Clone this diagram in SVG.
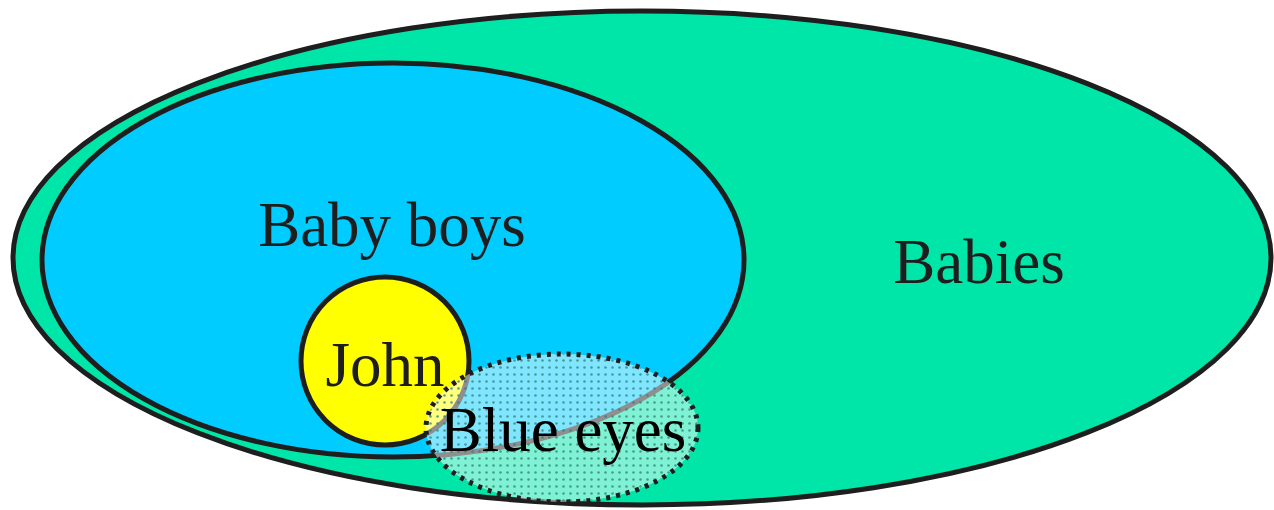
<svg xmlns="http://www.w3.org/2000/svg" width="1274" height="510" viewBox="0 0 1274 510">
<style>
.set{stroke:#1e1e1e;stroke-width:5}
.lbl{font-family:"Liberation Serif","Times New Roman",serif;font-size:63px;fill:#1e1e1e}
</style>
<defs>
<pattern id="dots" width="7" height="7" patternUnits="userSpaceOnUse">
<rect width="7" height="7" fill="#ffffff" fill-opacity="0.5"/>
<circle cx="3.5" cy="3.5" r="1.3" fill="#2f7f78" fill-opacity="0.75"/>
</pattern>
</defs>
<rect width="1274" height="510" fill="#ffffff"/>
<g id="babies">
<ellipse class="set" cx="642" cy="258" rx="629" ry="247" fill="#00e5a8"/>
<text class="lbl" x="979" y="283" text-anchor="middle">Babies</text>
</g>
<g id="baby-boys">
<ellipse class="set" cx="393" cy="260" rx="351" ry="197" fill="#00ccff"/>
<text class="lbl" x="392" y="246" text-anchor="middle">Baby boys</text>
</g>
<g id="john">
<circle class="set" cx="385" cy="361" r="84" fill="#ffff00"/>
<text class="lbl" x="385" y="386" text-anchor="middle">John</text>
</g>
<g id="blue-eyes">
<ellipse cx="562" cy="428" rx="136" ry="74" fill="url(#dots)" stroke="#1e1e1e" stroke-width="5" stroke-dasharray="4 6"/>
<text class="lbl" x="563" y="451" text-anchor="middle" style="fill:#000">Blue eyes</text>
</g>
<g id="connectors"/>
</svg>
